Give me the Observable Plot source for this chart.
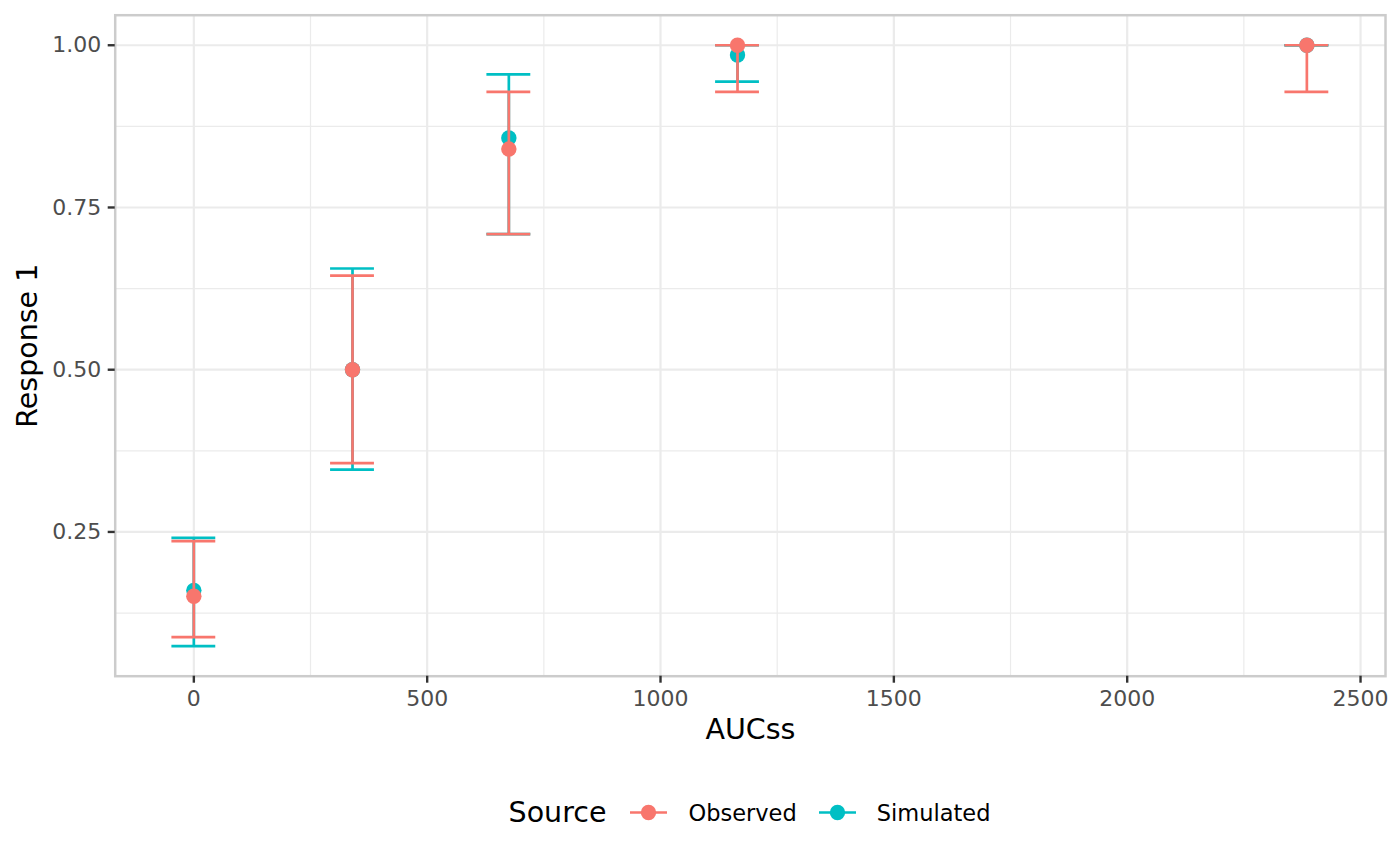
<!DOCTYPE html>
<html>
<head>
<meta charset="utf-8">
<script src="https://cdn.jsdelivr.net/npm/d3@7"></script>
<script src="https://cdn.jsdelivr.net/npm/@observablehq/plot@0.6"></script>
<style>
  html, body { margin: 0; padding: 0; background: #fff; }
  body { width: 1400px; height: 865px; overflow: hidden; font-family: "DejaVu Sans", sans-serif; }
  #legend { height: 105px; display: flex; align-items: center; justify-content: center; margin-left: 99px; }
  #legend .title { font-size: 28.5px; color: #000; margin-right: 21px; }
  #legend .key { display: block; }
  #legend .lab { font-size: 22.5px; color: #000; margin-left: 18px; margin-right: 19px; }
  #legend .lab:last-child { margin-right: 0; }
</style>
</head>
<body>
<div id="chart"></div>
<div id="legend"></div>
<script>
// ---- data ----
const auc      = [0, 340, 675, 1165, 2385];
const obsMid   = [0.151, 0.500, 0.840, 1.000, 1.000];
const obsLow   = [0.088, 0.356, 0.709, 0.928, 0.928];
const obsHigh  = [0.236, 0.645, 0.928, 1.000, 1.000];
const simMid   = [0.160, 0.500, 0.857, 0.985, 1.000];
const simLow   = [0.074, 0.346, 0.709, 0.944, 1.000];
const simHigh  = [0.241, 0.656, 0.955, 1.000, 1.000];

const sources  = ["Observed", "Simulated"];
const colors   = ["#F8766D", "#00BFC4"];
const xTicks   = [0, 500, 1000, 1500, 2000, 2500];
const xMinor   = [250, 750, 1250, 1750, 2250];
const yTicks   = [0.25, 0.50, 0.75, 1.00];
const yMinor   = [0.125, 0.375, 0.625, 0.875];
const capHalf  = 47; // half width of error-bar caps, in AUC units

const rows = [];
auc.forEach((x, i) => {
  rows.push({source: "Observed", x, y: obsMid[i], lo: obsLow[i], hi: obsHigh[i]});
  rows.push({source: "Simulated", x, y: simMid[i], lo: simLow[i], hi: simHigh[i]});
});

const font = "DejaVu Sans, sans-serif";
const seriesMarks = [];
// Simulated drawn first, Observed on top
["Simulated", "Observed"].forEach(s => {
  const d = rows.filter(r => r.source === s);
  const c = colors[sources.indexOf(s)];
  seriesMarks.push(
    Plot.ruleX(d, {x: "x", y1: "lo", y2: "hi", stroke: c, strokeWidth: 2.7}),
    Plot.ruleY(d, {y: "lo", x1: r => r.x - capHalf, x2: r => r.x + capHalf, stroke: c, strokeWidth: 2.7}),
    Plot.ruleY(d, {y: "hi", x1: r => r.x - capHalf, x2: r => r.x + capHalf, stroke: c, strokeWidth: 2.7}),
    Plot.dot(d, {x: "x", y: "y", r: 7.7, fill: c, stroke: "none"})
  );
});

const chart = Plot.plot({
  width: 1400,
  height: 760,
  marginLeft: 114.7,
  marginRight: 15,
  marginTop: 14.7,
  marginBottom: 84.3,
  style: {fontFamily: font, background: "#fff", overflow: "visible"},
  x: {domain: [-168.5, 2553.5]},
  y: {domain: [0.0277, 1.0463]},
  marks: [
    Plot.gridX(xMinor, {stroke: "#EBEBEB", strokeOpacity: 1, strokeWidth: 1.2}),
    Plot.gridY(yMinor, {stroke: "#EBEBEB", strokeOpacity: 1, strokeWidth: 1.2}),
    Plot.gridX(xTicks, {stroke: "#EBEBEB", strokeOpacity: 1, strokeWidth: 2.2}),
    Plot.gridY(yTicks, {stroke: "#EBEBEB", strokeOpacity: 1, strokeWidth: 2.2}),
    ...seriesMarks,
    Plot.frame({stroke: "#CCCCCC", strokeWidth: 2.5}),
    Plot.axisX(xTicks, {tickSize: 7, tickPadding: 7, stroke: "#333333", strokeWidth: 2.4, fill: "#4D4D4D",
      fontSize: 22, label: null, tickFormat: d => String(d)}),
    Plot.axisY(yTicks, {tickSize: 7, tickPadding: 7, stroke: "#333333", strokeWidth: 2.4, fill: "#4D4D4D",
      fontSize: 22, label: null, tickFormat: d3.format(".2f")}),
    Plot.text(["AUCss"], {frameAnchor: "bottom", lineAnchor: "middle", dy: 54, fontSize: 28.5, fill: "#000", textAnchor: "middle"}),
    Plot.text(["Response 1"], {frameAnchor: "left", lineAnchor: "middle", dx: -87, rotate: -90, fontSize: 28.5, fill: "#000", textAnchor: "middle"})
  ]
});
document.getElementById("chart").appendChild(chart);

// ---- legend ----
const leg = d3.select("#legend");
leg.append("span").attr("class", "title").text("Source");
sources.forEach((s, i) => {
  const svg = leg.append("svg").attr("class", "key").attr("width", 43).attr("height", 43);
  svg.append("line").attr("x1", 3).attr("x2", 40).attr("y1", 21.5).attr("y2", 21.5)
    .attr("stroke", colors[i]).attr("stroke-width", 2.7);
  svg.append("circle").attr("cx", 21.5).attr("cy", 21.5).attr("r", 7.7).attr("fill", colors[i]);
  leg.append("span").attr("class", "lab").text(s);
});
</script>
</body>
</html>
